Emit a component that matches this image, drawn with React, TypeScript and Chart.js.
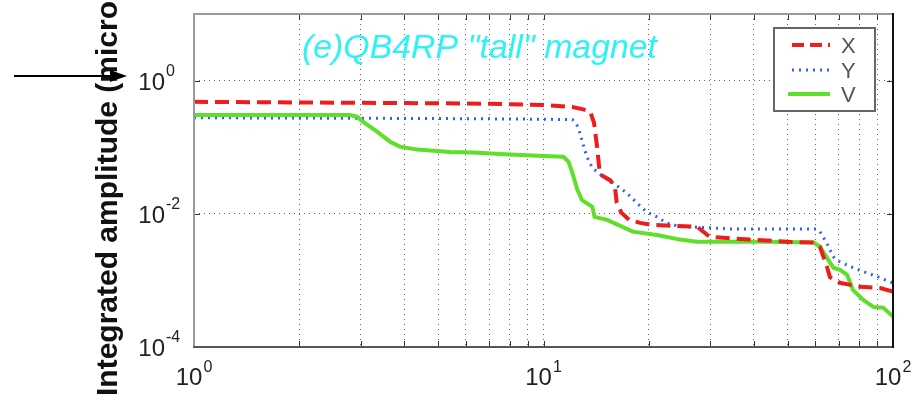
import React, { useEffect, useRef } from "react";
import { Chart, registerables } from "chart.js";

Chart.register(...registerables);

// ---- data ----
const freqX = [1, 2, 4, 7, 10, 12.1, 13.0, 13.6, 13.95, 14.23, 14.5, 15.5, 16.0, 16.2, 16.7, 17.6, 18.9, 20.5, 23.5, 27.5, 29.9, 32.0, 38.9, 49.9, 59.3, 61.8, 64.7, 66, 70.5, 80.5, 91.8, 100];
const ampX = [0.48, 0.47, 0.46, 0.45, 0.43, 0.40, 0.37, 0.342, 0.233, 0.102, 0.039, 0.032, 0.026, 0.0147, 0.0104, 0.0081, 0.0073, 0.0068, 0.0066, 0.0064, 0.0045, 0.0044, 0.0041, 0.0038, 0.0037, 0.0032, 0.0016, 0.00112, 0.00092, 0.0008, 0.00077, 0.00068];

const freqY = [1, 3, 6, 10, 12.1, 12.45, 12.7, 13.3, 13.8, 14.8, 15.8, 17.3, 18.5, 19.7, 21.1, 22.5, 24.6, 27.4, 34.8, 60.3, 61.8, 64.7, 67.5, 70.5, 76.8, 84.2, 91.8, 98, 100];
const ampY = [0.277, 0.272, 0.268, 0.263, 0.259, 0.218, 0.165, 0.072, 0.049, 0.036, 0.029, 0.0207, 0.0146, 0.0107, 0.009, 0.0073, 0.0064, 0.0063, 0.0059, 0.0059, 0.0054, 0.0036, 0.00226, 0.0019, 0.00155, 0.0013, 0.0011, 0.00095, 0.00092];

const freqV = [1, 2, 2.79, 2.93, 3.04, 3.34, 3.64, 3.88, 4.35, 5.4, 6.28, 8, 10, 11.4, 11.8, 12.1, 12.5, 12.9, 13.8, 14.0, 15.2, 18.0, 21.1, 24.6, 27.4, 43.7, 59.3, 61.8, 64.7, 67.5, 70.5, 73.9, 76.8, 82.2, 87.8, 93.7, 99, 100];
const ampV = [0.305, 0.305, 0.305, 0.287, 0.242, 0.171, 0.121, 0.102, 0.092, 0.085, 0.083, 0.078, 0.074, 0.072, 0.0605, 0.041, 0.023, 0.016, 0.0127, 0.009, 0.0081, 0.0054, 0.0048, 0.0041, 0.0038, 0.0038, 0.0037, 0.0032, 0.0022, 0.00155, 0.00144, 0.00121, 0.00072, 0.00051, 0.0004, 0.00039, 0.0003, 0.00029];

const seriesNames = ["X", "Y", "V"];
const xGridValues = [1, 2, 3, 4, 5, 6, 7, 8, 9, 10, 20, 30, 40, 50, 60, 70, 80, 90, 100];
const yGridValues = [1e-4, 1e-2, 1, 10];
const xLabelValues = [1, 10, 100];
const xLabelExps = ["0", "1", "2"];
const yLabelValues = [1e-4, 1e-2, 1];
const yLabelExps = ["-4", "-2", "0"];
const titleText = '(e)QB4RP "tall" magnet';
const yAxisTitle = "Integrated amplitude (micron)";

const RED = "#ee1c1c";
const BLUE = "#3060f0";
const GREEN = "#5ee02a";
const FONT = "'Liberation Sans', Arial, sans-serif";

function pts(xs: number[], ys: number[]) {
  return xs.map((x, i) => ({ x, y: ys[i] }));
}

const overlay = {
  id: "overlay",
  afterDraw(chart: any) {
    const { ctx, chartArea: a, scales } = chart;
    const xs = scales.x;
    const ys = scales.y;
    ctx.save();

    // inward ticks
    ctx.strokeStyle = "#333";
    ctx.lineWidth = 1;
    ctx.setLineDash([]);
    xGridValues.forEach((v) => {
      const px = Math.round(xs.getPixelForValue(v)) + 0.5;
      ctx.beginPath();
      ctx.moveTo(px, a.bottom);
      ctx.lineTo(px, a.bottom - 6);
      ctx.moveTo(px, a.top);
      ctx.lineTo(px, a.top + 6);
      ctx.stroke();
    });
    yGridValues.forEach((v) => {
      const py = Math.round(ys.getPixelForValue(v)) + 0.5;
      ctx.beginPath();
      ctx.moveTo(a.left, py);
      ctx.lineTo(a.left + 6, py);
      ctx.moveTo(a.right, py);
      ctx.lineTo(a.right - 6, py);
      ctx.stroke();
    });

    // axes box
    ctx.lineWidth = 2;
    ctx.strokeStyle = "#9a9a9a";
    ctx.beginPath();
    ctx.moveTo(a.left, a.bottom);
    ctx.lineTo(a.left, a.top);
    ctx.lineTo(a.right, a.top);
    ctx.stroke();
    ctx.strokeStyle = "#555";
    ctx.beginPath();
    ctx.moveTo(a.left - 1, a.bottom);
    ctx.lineTo(a.right, a.bottom);
    ctx.stroke();
    ctx.strokeStyle = "#111";
    ctx.beginPath();
    ctx.moveTo(a.right, a.top - 1);
    ctx.lineTo(a.right, a.bottom + 1);
    ctx.stroke();

    // tick labels with superscripts
    ctx.fillStyle = "#222";
    ctx.textBaseline = "alphabetic";
    yLabelValues.forEach((v, i) => {
      const py = ys.getPixelForValue(v);
      ctx.font = `24px ${FONT}`;
      ctx.textAlign = "right";
      ctx.fillText("10", 165, py + 9);
      ctx.font = `16px ${FONT}`;
      ctx.textAlign = "left";
      ctx.fillText(yLabelExps[i], 166, py - 5);
    });
    xLabelValues.forEach((v, i) => {
      const px = xs.getPixelForValue(v);
      ctx.font = `24px ${FONT}`;
      const w1 = ctx.measureText("10").width;
      ctx.font = `16px ${FONT}`;
      const w2 = ctx.measureText(xLabelExps[i]).width;
      const start = px - (w1 + w2 + 1) / 2;
      ctx.textAlign = "left";
      ctx.font = `24px ${FONT}`;
      ctx.fillText("10", start, a.bottom + 38);
      ctx.font = `16px ${FONT}`;
      ctx.fillText(xLabelExps[i], start + w1 + 1, a.bottom + 25);
    });

    // title inside plot
    ctx.save();
    ctx.font = `italic 33px ${FONT}`;
    ctx.fillStyle = "#30f2f6";
    ctx.textAlign = "left";
    const tw = ctx.measureText(titleText).width;
    ctx.translate(302, 58);
    ctx.scale(355 / tw, 1);
    ctx.fillText(titleText, 0, 0);
    ctx.restore();

    // legend
    const lx = 774, ly = 28, lw = 101, lh = 83;
    ctx.fillStyle = "#fff";
    ctx.fillRect(lx, ly, lw, lh);
    ctx.lineWidth = 2;
    ctx.strokeStyle = "#666";
    ctx.setLineDash([]);
    ctx.strokeRect(lx, ly, lw, lh);
    const rows = [45, 70, 94];
    const styles = [
      { c: RED, w: 4, d: [12, 6] },
      { c: BLUE, w: 3, d: [2, 5] },
      { c: GREEN, w: 4, d: [] as number[] },
    ];
    rows.forEach((ry, i) => {
      const s = styles[i];
      ctx.strokeStyle = s.c;
      ctx.lineWidth = s.w;
      ctx.setLineDash(s.d);
      ctx.beginPath();
      ctx.moveTo(i === 2 ? 788 : 792, ry);
      ctx.lineTo(830, ry);
      ctx.stroke();
      ctx.setLineDash([]);
      ctx.fillStyle = "#555";
      ctx.font = `22px ${FONT}`;
      ctx.textAlign = "left";
      ctx.fillText(seriesNames[i], 841, ry + 8);
    });

    // y axis title (rotated, clipped at top)
    ctx.save();
    ctx.translate(117, 396);
    ctx.rotate(-Math.PI / 2);
    ctx.font = `bold 30px ${FONT}`;
    ctx.fillStyle = "#111";
    ctx.textAlign = "left";
    ctx.fillText(yAxisTitle, 0, 0);
    ctx.restore();

    // arrow
    ctx.strokeStyle = "#000";
    ctx.fillStyle = "#000";
    ctx.lineWidth = 2;
    ctx.beginPath();
    ctx.moveTo(14, 76);
    ctx.lineTo(114, 76);
    ctx.stroke();
    ctx.beginPath();
    ctx.moveTo(110, 70);
    ctx.lineTo(127, 76);
    ctx.lineTo(110, 82);
    ctx.closePath();
    ctx.fill();

    ctx.restore();
  },
};

export default function App() {
  const ref = useRef<HTMLCanvasElement | null>(null);
  useEffect(() => {
    if (!ref.current) return;
    const chart = new Chart(ref.current, {
      type: "line",
      data: {
        datasets: [
          {
            label: seriesNames[0],
            data: pts(freqX, ampX),
            borderColor: RED,
            borderWidth: 4,
            borderDash: [14, 7],
            pointRadius: 0,
            tension: 0,
            fill: false,
            order: 1,
          },
          {
            label: seriesNames[1],
            data: pts(freqY, ampY),
            borderColor: BLUE,
            borderWidth: 3,
            borderDash: [2, 5],
            pointRadius: 0,
            tension: 0,
            fill: false,
            order: 3,
          },
          {
            label: seriesNames[2],
            data: pts(freqV, ampV),
            borderColor: GREEN,
            borderWidth: 4,
            pointRadius: 0,
            tension: 0,
            fill: false,
            order: 2,
          },
        ],
      },
      options: {
        animation: false,
        responsive: false,
        maintainAspectRatio: false,
        layout: { padding: { left: 0, top: 14, right: 21, bottom: 0 } },
        plugins: { legend: { display: false }, tooltip: { enabled: false }, title: { display: false } },
        scales: {
          x: {
            type: "logarithmic",
            min: 1,
            max: 100,
            afterBuildTicks: (s: any) => {
              s.ticks = xGridValues.map((v) => ({ value: v }));
            },
            afterFit: (s: any) => {
              s.height = 53;
            },
            ticks: { display: false },
            grid: { color: "#666", lineWidth: 1, drawTicks: false },
            border: { display: false, dash: [1, 4] },
          },
          y: {
            type: "logarithmic",
            min: 1e-4,
            max: 10,
            afterBuildTicks: (s: any) => {
              s.ticks = yGridValues.map((v) => ({ value: v }));
            },
            afterFit: (s: any) => {
              s.width = 194;
            },
            ticks: { display: false },
            grid: { color: "#666", lineWidth: 1, drawTicks: false },
            border: { display: false, dash: [1, 4] },
          },
        },
      },
      plugins: [overlay],
    });
    return () => chart.destroy();
  }, []);
  return (
    <div style={{ position: "absolute", left: 0, top: 0, width: 914, height: 400, background: "#fff" }}>
      <canvas ref={ref} width={914} height={400} style={{ width: 914, height: 400, display: "block" }} />
    </div>
  );
}
